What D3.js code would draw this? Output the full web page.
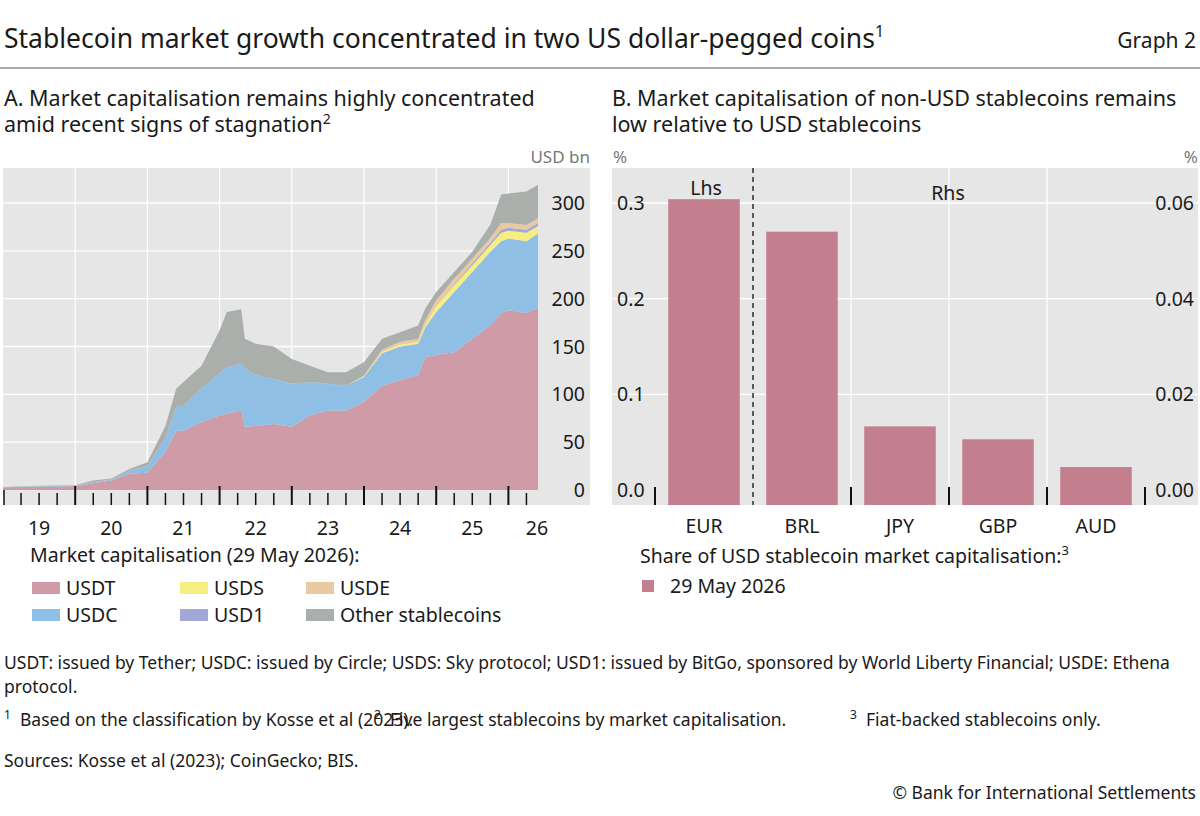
<!DOCTYPE html>
<html lang="en">
<head>
<meta charset="utf-8">
<title>Graph 2</title>
<script src="https://d3js.org/d3.v7.min.js"></script>
<style>
  body { margin: 0; background: #fff; }
  text { font-family: "Noto Sans", "Open Sans", sans-serif; fill: #1a1a1a; }
</style>
</head>
<body>
<script>
// panel A data (USD bn, decimal years)
var dates = [2019.0, 2019.5, 2020.0, 2020.25, 2020.5, 2020.75, 2021.0, 2021.25, 2021.4, 2021.5, 2021.75, 2022.0, 2022.1, 2022.3, 2022.35, 2022.5, 2022.75, 2023.0, 2023.25, 2023.5, 2023.75, 2024.0, 2024.25, 2024.5, 2024.75, 2024.85, 2025.0, 2025.25, 2025.5, 2025.75, 2025.9, 2026.0, 2026.25, 2026.41];
var usdt  = [3, 3.5, 4, 7, 10, 17, 18, 40, 62, 62, 71, 78, 80, 83, 66, 67, 69, 66, 78, 83, 83, 92, 109, 115, 120, 139, 141, 144, 158, 172, 185, 188, 185, 190];
var usdc  = [0.2, 0.3, 0.5, 1, 1, 3, 7, 15, 25, 26, 35, 44, 48, 49, 61, 53, 47, 45, 35, 28, 26, 26, 34, 35, 33, 31, 45, 63, 70, 77, 75, 75, 75, 78];
var usds  = [0, 0, 0, 0, 0, 0, 0, 0, 0, 0, 0, 0, 0, 0, 0, 0, 0, 0, 0, 0, 0, 1, 1.5, 2, 2, 3, 6, 7, 7, 7, 9, 8, 9, 8];
var usd1  = [0, 0, 0, 0, 0, 0, 0, 0, 0, 0, 0, 0, 0, 0, 0, 0, 0, 0, 0, 0, 0, 0, 0, 0, 0, 0, 0, 1, 2, 2.5, 3, 3, 3, 3];
var usde  = [0, 0, 0, 0, 0, 0, 0, 0, 0, 0, 0, 0, 0, 0, 0, 0, 0, 0, 0, 0, 0, 0.5, 2, 3, 3, 5, 6, 6, 5, 5, 7, 5, 5, 5];
var other = [0, 0.7, 0.5, 2, 1, 2, 4, 12, 19, 25, 24, 45, 58, 57, 31, 33, 34, 26, 17, 12, 14, 14, 11.5, 10, 14, 12, 9, 7, 7, 14, 30, 31, 35, 35];
var yearLabels = ["19", "20", "21", "22", "23", "24", "25", "26"];

// panel B data (% of USD stablecoin market cap)
var currencies = ["EUR", "BRL", "JPY", "GBP", "AUD"];
var shares = [0.304, 0.054, 0.0133, 0.0106, 0.0048];
var lhsTicks = [0.0, 0.1, 0.2, 0.3];
var rhsTicks = [0.00, 0.02, 0.04, 0.06];

var colors = {USDT: "#cf9ba7", USDC: "#8fbfe4", USDS: "#f6ee80", USD1: "#a4a8d8", USDE: "#e8c9a2", Other: "#abafab"};
var barColor = "#c47f8f";
var panelBg = "#e6e6e6";

var svg = d3.select("body").append("svg").attr("width", 1200).attr("height", 816);

// title
svg.append("text").attr("x", 4).attr("y", 48).attr("font-size", 26.5)
  .html('Stablecoin market growth concentrated in two US dollar-pegged coins<tspan dy="-11" font-size="16">1</tspan>');
svg.append("text").attr("x", 1196).attr("y", 48).attr("font-size", 21).attr("text-anchor", "end").text("Graph 2");
svg.append("line").attr("x1", 0).attr("x2", 1200).attr("y1", 68).attr("y2", 68).attr("stroke", "#555").attr("stroke-width", 1);

// ---------- panel A ----------
svg.append("text").attr("x", 4).attr("y", 106).attr("font-size", 21.5).text("A. Market capitalisation remains highly concentrated");
svg.append("text").attr("x", 4).attr("y", 132).attr("font-size", 21.5)
  .html('amid recent signs of stagnation<tspan dy="-8" font-size="14">2</tspan>');
svg.append("text").attr("x", 590).attr("y", 163).attr("font-size", 17).attr("text-anchor", "end").style("fill", "#777").text("USD bn");

var ax0 = 3, ax1 = 590, ay0 = 168, ay1 = 505;
svg.append("rect").attr("x", ax0).attr("y", ay0).attr("width", ax1 - ax0).attr("height", ay1 - ay0).attr("fill", panelBg);

var x = d3.scaleLinear().domain([2019, 2026.41]).range([3, 538]);
var y = d3.scaleLinear().domain([0, 300]).range([490, 203]);

// grid
[50, 100, 150, 200, 250, 300].forEach(function (v) {
  svg.append("line").attr("x1", ax0).attr("x2", 538).attr("y1", y(v)).attr("y2", y(v)).attr("stroke", "#fff").attr("stroke-width", 1.3);
});
d3.range(2020, 2027).forEach(function (yr) {
  svg.append("line").attr("x1", x(yr)).attr("x2", x(yr)).attr("y1", ay0).attr("y2", 490).attr("stroke", "#fff").attr("stroke-width", 1.3);
});

var keys = ["USDT", "USDC", "USDS", "USD1", "USDE", "Other"];
var table = dates.map(function (d, i) {
  return {t: d, USDT: usdt[i], USDC: usdc[i], USDS: usds[i], USD1: usd1[i], USDE: usde[i], Other: other[i]};
});
var stack = d3.stack().keys(keys)(table);
var area = d3.area().x(function (d) { return x(d.data.t); })
  .y0(function (d) { return y(d[0]); }).y1(function (d) { return y(d[1]); });
svg.selectAll(".layer").data(stack).enter().append("path")
  .attr("d", area).attr("fill", function (d) { return colors[d.key]; });

// y labels inside panel
svg.selectAll(".ylab").data([0, 50, 100, 150, 200, 250, 300]).enter().append("text")
  .attr("x", 585).attr("y", function (d) { return y(d) + 7; }).attr("text-anchor", "end").attr("font-size", 19.5).text(function (d) { return d; });

// x ticks: year boundaries long, quarters short
var quarters = d3.range(2019, 2026.5, 0.25);
quarters.forEach(function (q) {
  var major = Math.abs(q - Math.round(q)) < 1e-6;
  if (q === 2019) return;
  svg.append("line").attr("x1", x(q)).attr("x2", x(q)).attr("y1", ay1).attr("y2", ay1 - (major ? 19 : 12))
    .attr("stroke", "#111").attr("stroke-width", major ? 2 : 1.5);
});
svg.append("line").attr("x1", 4).attr("x2", 4).attr("y1", ay1).attr("y2", ay1 - 15).attr("stroke", "#111").attr("stroke-width", 1.5);
yearLabels.forEach(function (l, i) {
  var cx = i < 7 ? x(2019.5 + i) : 537;
  svg.append("text").attr("x", cx).attr("y", 535).attr("text-anchor", "middle").attr("font-size", 19.5).text(l);
});

// legend A
svg.append("text").attr("x", 30).attr("y", 562).attr("font-size", 19.5).text("Market capitalisation (29 May 2026):");
var legA = [["USDT", 32, 588], ["USDS", 180, 588], ["USDE", 306, 588], ["USDC", 32, 615], ["USD1", 180, 615], ["Other", 306, 615]];
legA.forEach(function (l) {
  svg.append("rect").attr("x", l[1]).attr("y", l[2] - 6).attr("width", 28).attr("height", 12).attr("fill", colors[l[0]]);
  svg.append("text").attr("x", l[1] + 34).attr("y", l[2] + 7).attr("font-size", 19.5).text(l[0] === "Other" ? "Other stablecoins" : l[0]);
});

// ---------- panel B ----------
svg.append("text").attr("x", 612).attr("y", 106).attr("font-size", 21.5).text("B. Market capitalisation of non-USD stablecoins remains");
svg.append("text").attr("x", 612).attr("y", 132).attr("font-size", 21.5).text("low relative to USD stablecoins");
svg.append("text").attr("x", 613).attr("y", 163).attr("font-size", 17).style("fill", "#777").text("%");
svg.append("text").attr("x", 1198).attr("y", 163).attr("font-size", 17).attr("text-anchor", "end").style("fill", "#777").text("%");

var bx0 = 612, bx1 = 1198;
svg.append("rect").attr("x", bx0).attr("y", ay0).attr("width", bx1 - bx0).attr("height", ay1 - ay0).attr("fill", panelBg);

var xb = d3.scaleBand().domain(currencies).range([655, 1145]).paddingInner(0.27).paddingOuter(0.135);
var yl = d3.scaleLinear().domain([0, 0.3]).range([490, 203]);
var yr = d3.scaleLinear().domain([0, 0.06]).range([490, 203]);

lhsTicks.slice(1).forEach(function (v) {
  svg.append("line").attr("x1", bx0).attr("x2", bx1).attr("y1", yl(v)).attr("y2", yl(v)).attr("stroke", "#fff").attr("stroke-width", 1.3);
});
var step = xb.step();
[2, 3, 4].forEach(function (i) {
  var bx = 655 + step * i;
  svg.append("line").attr("x1", bx).attr("x2", bx).attr("y1", ay0).attr("y2", 490).attr("stroke", "#fff").attr("stroke-width", 1.3);
});

svg.selectAll(".bar").data(currencies).enter().append("rect")
  .attr("x", function (d) { return xb(d); }).attr("width", xb.bandwidth())
  .attr("y", function (d, i) { return i === 0 ? yl(shares[i]) : yr(shares[i]); })
  .attr("height", function (d, i) { return 505 - (i === 0 ? yl(shares[i]) : yr(shares[i])); })
  .attr("fill", barColor);

// dashed divider
svg.append("line").attr("x1", 655 + step).attr("x2", 655 + step).attr("y1", ay0).attr("y2", ay1)
  .attr("stroke", "#111").attr("stroke-width", 1.3).attr("stroke-dasharray", "5,4");
svg.append("text").attr("x", 706).attr("y", 195).attr("text-anchor", "middle").attr("font-size", 19.5).text("Lhs");
svg.append("text").attr("x", 948).attr("y", 200).attr("text-anchor", "middle").attr("font-size", 19.5).text("Rhs");

d3.range(0, 6).forEach(function (i) {
  if (i === 1) return;
  var bx = 655 + step * i;
  svg.append("line").attr("x1", bx).attr("x2", bx).attr("y1", ay1).attr("y2", ay1 - 18).attr("stroke", "#111").attr("stroke-width", 2);
});

svg.selectAll(".lt").data(lhsTicks).enter().append("text")
  .attr("x", 617).attr("y", function (d) { return yl(d) + 7; }).attr("font-size", 19.5).text(function (d) { return d.toFixed(1); });
svg.selectAll(".rt").data(rhsTicks).enter().append("text")
  .attr("x", 1194).attr("y", function (d) { return yr(d) + 7; }).attr("text-anchor", "end").attr("font-size", 19.5).text(function (d) { return d.toFixed(2); });

svg.selectAll(".xl").data(currencies).enter().append("text")
  .attr("x", function (d) { return xb(d) + xb.bandwidth() / 2; }).attr("y", 533).attr("text-anchor", "middle").attr("font-size", 19.5).text(function (d) { return d; });

svg.append("text").attr("x", 640).attr("y", 563).attr("font-size", 19.5)
  .html('Share of USD stablecoin market capitalisation:<tspan dy="-8" font-size="13">3</tspan>');
svg.append("rect").attr("x", 642).attr("y", 580).attr("width", 12).attr("height", 12).attr("fill", barColor);
svg.append("text").attr("x", 670).attr("y", 593).attr("font-size", 19.5).text("29 May 2026");

// footnotes
svg.append("text").attr("x", 4).attr("y", 669).attr("font-size", 17.5)
  .text("USDT: issued by Tether; USDC: issued by Circle; USDS: Sky protocol; USD1: issued by BitGo, sponsored by World Liberty Financial; USDE: Ethena");
svg.append("text").attr("x", 4).attr("y", 693).attr("font-size", 17.5).text("protocol.");
var fn = svg.append("text").attr("y", 726).attr("font-size", 17.5);
[[4, "1", "Based on the classification by Kosse et al (2023)."],
 [374, "2", "Five largest stablecoins by market capitalisation."],
 [850, "3", "Fiat-backed stablecoins only."]].forEach(function (f) {
  svg.append("text").attr("x", f[0]).attr("y", 719).attr("font-size", 12).text(f[1]);
  svg.append("text").attr("x", f[0] + 16).attr("y", 726).attr("font-size", 17.5).text(f[2]);
});
svg.append("text").attr("x", 4).attr("y", 767).attr("font-size", 17.5).text("Sources: Kosse et al (2023); CoinGecko; BIS.");
svg.append("text").attr("x", 1196).attr("y", 799).attr("font-size", 17.5).attr("text-anchor", "end").text("© Bank for International Settlements");
</script>
</body>
</html>
